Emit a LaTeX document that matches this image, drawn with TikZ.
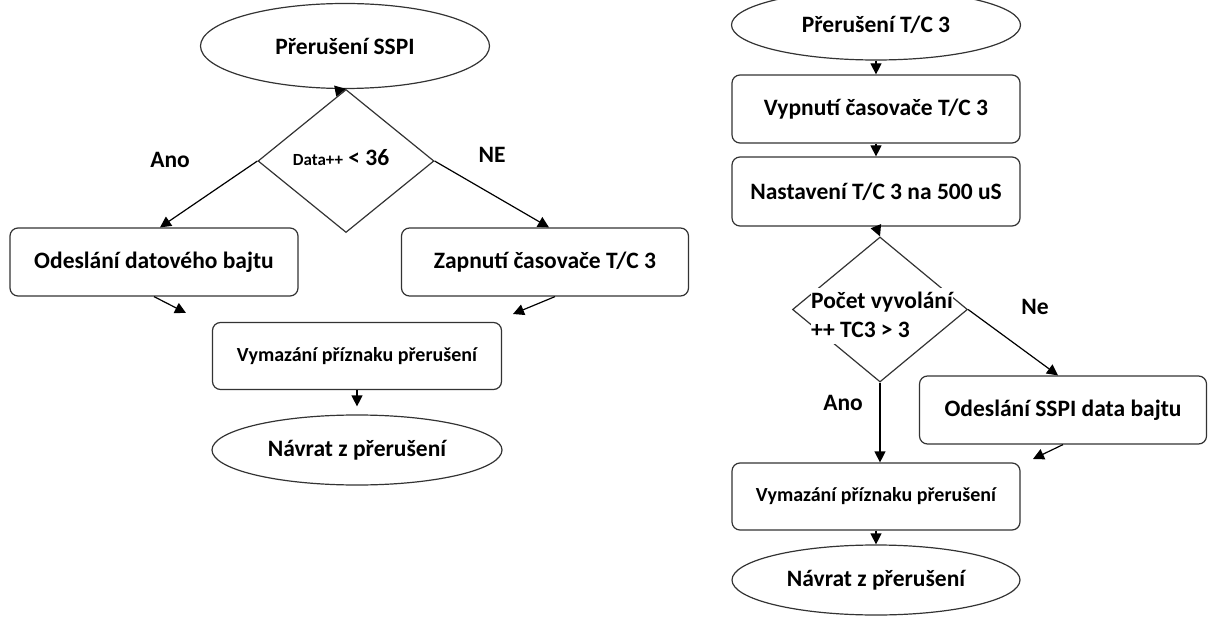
\documentclass[tikz,border=0pt]{standalone}
\usepackage{fontspec}
\setmainfont{Carlito}
\usetikzlibrary{shapes.geometric,arrows.meta,calc}
\begin{document}
\begin{tikzpicture}[x=1pt,y=-1pt,
  every node/.style={font=\fontsize{23.5}{26}\selectfont\bfseries},
  oval/.style={ellipse,draw=black!80,line width=1.2pt,inner sep=0pt,minimum width=289pt,minimum height=70pt},
  box/.style={rectangle,rounded corners=8pt,draw=black!80,line width=1.2pt,inner sep=0pt,minimum width=288pt,minimum height=68pt},
  dia/.style={diamond,draw=black!80,line width=1.2pt,inner sep=0pt},
  small/.style={font=\fontsize{20}{24}\selectfont\bfseries},
  tline/.style={fill=white,inner sep=0pt,anchor=west,minimum height=28pt},
  arr/.style={draw=black,line width=1.2pt,-{Triangle[length=11pt,width=11pt]}}]
\useasboundingbox (0,0) rectangle (1209,617);
\begin{scope}
\clip (0,0) rectangle (1209,617);
% ---------- left flowchart ----------
\node[oval,minimum height=85pt] (s1) at (345,46) {Přerušení SSPI};
\node[dia,minimum width=176pt,minimum height=143pt] (d1) at (346,161) {};
\node (t1) at (341,158) {{\fontsize{17}{20}\selectfont Data++} < 36};
\node (ano1) at (170,160) {Ano};
\node (ne1) at (492,155) {NE};
\node[box] (b1) at (154,262) {Odeslání datového bajtu};
\node[box,minimum width=287pt] (b2) at (545,262) {Zapnutí časovače T/C 3};
\node[box,small,minimum width=289pt,minimum height=67pt] (b3) at (357,356) {Vymazání příznaku přerušení};
\node[oval,minimum width=290pt] (s2) at (357,450) {Návrat z přerušení};
\coordinate (e1) at (186,313);
\coordinate (e2) at (513,314);
\draw[arr] (s1.south) -- (d1.north);
\draw[arr] (d1.west) -- ($(b1.north)+(6,0)$);
\draw[arr] (d1.east) -- ($(b2.north)+(4,0)$);
\draw[arr] (b1.south) -- (e1);
\draw[arr] ($(b2.south)+(10,0)$) -- (e2);
\draw[arr,shorten >=8pt] (b3.south) -- (s2.north);
% ---------- right flowchart ----------
\node[oval] (r1) at (876,25) {Přerušení T/C 3};
\node[box] (r2) at (876,109) {Vypnutí časovače T/C 3};
\node[box,minimum height=69pt] (r3) at (876,191.5) {Nastavení T/C 3 na 500 uS};
\node[dia,minimum width=175pt,minimum height=145pt] (d2) at (880,309.5) {};
\node[tline] (t2a) at (811,302) {Počet vyvolání};
\node[tline] (t2b) at (811,330) {++ TC3 > 3};
\node (ne2) at (1035,307) {Ne};
\node (ano2) at (843,403) {Ano};
\node[box,minimum width=287pt] (r4) at (1063,410) {Odeslání SSPI data bajtu};
\node[box,small,minimum height=67pt] (r5) at (876,496.5) {Vymazání příznaku přerušení};
\node[oval,minimum width=288pt] (r6) at (876,580) {Návrat z přerušení};
\coordinate (e3) at (1033,459);
\draw[arr] (r1.south) -- (r2.north);
\draw[arr] (r2.south) -- (r3.north);
\draw[arr] (r3.south) -- (d2.north);
\draw[arr] (d2.east) -- ($(r4.north)+(-5,0)$);
\draw[arr] (r4.south) -- (e3);
\draw[arr] (d2.south) -- (d2.south |- r5.north);
\draw[arr] (r5.south) -- (r6.north);
\end{scope}
\end{tikzpicture}
\end{document}
